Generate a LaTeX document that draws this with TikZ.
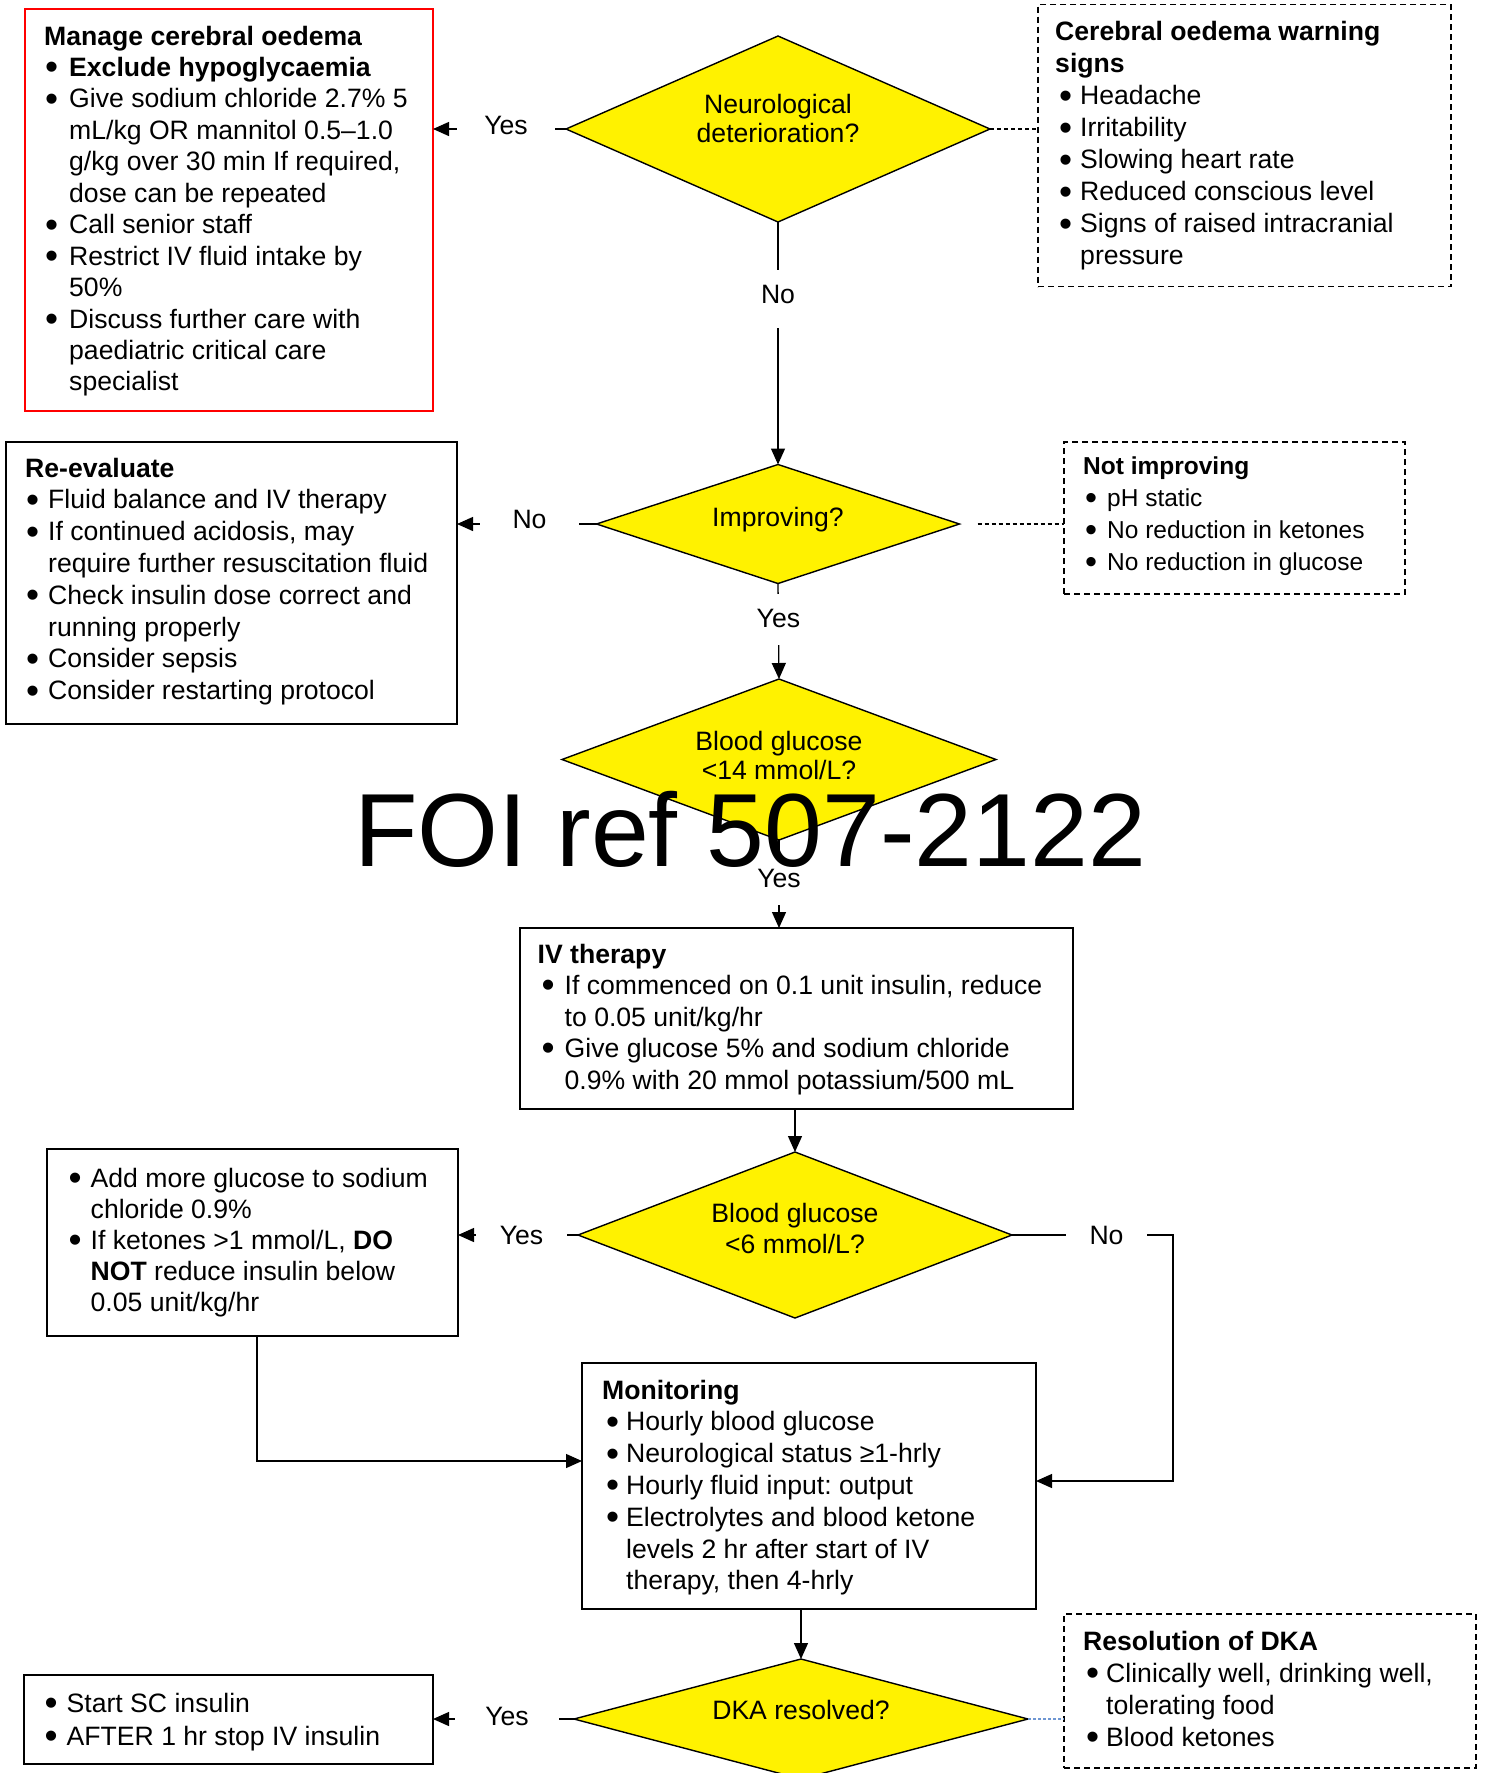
\documentclass[tikz,border=0pt]{standalone}
\usepackage{fontspec}
\usepackage{graphicx}
\setmainfont{Liberation Sans}
\usetikzlibrary{shapes.geometric,arrows.meta}

% bullet column: width of the hanging indent and offset of the bullet
\newlength{\bltw}
\newlength{\blto}
\newcommand{\bigdot}{\smash{\raisebox{-0.13em}{\scalebox{1.4}{\textbullet}}}}
\newcommand{\bitem}{\makebox[\bltw][l]{\hspace{\blto}\bigdot}}
\newcommand{\bcont}{\hspace*{\bltw}}
\newcommand{\fsz}[2]{\fontsize{#1pt}{#2pt}\selectfont}
\definecolor{linkblue}{RGB}{110,150,210}
\frenchspacing

\begin{document}
\begin{tikzpicture}[x=1pt,y=-1pt,
  box/.style={draw, line width=1.6pt, inner sep=0pt, outer sep=0pt, anchor=north west},
  warnbox/.style={box, draw=red},
  notebox/.style={box, dash pattern=on 6pt off 4pt},
  decision/.style={diamond, draw, fill=yellow, line width=1.4pt, inner sep=0pt, outer sep=0pt},
  txt/.style={inner sep=0pt, anchor=base west},
  dtxt/.style={inner sep=0pt, anchor=base, font=\fsz{26.6}{29.5}},
  conn/.style={line width=1.3pt, -{Triangle[length=16pt,width=14pt]}},
  hint/.style={line width=1.1pt, dash pattern=on 4pt off 3pt},
  lbl/.style={fill=white, inner sep=0pt, text height=19pt, font=\fsz{26.6}{31.6}},
]
\useasboundingbox (0,0) rectangle (1485,1773);
\fill[white] (0,0) rectangle (1485,1773);

% ---------- boxes ----------
\node[warnbox, minimum width=408pt, minimum height=402pt] (warn) at (25,9) {};
\node[notebox, minimum width=413pt, minimum height=282pt] (cereb) at (1038,4.5) {};
\node[box, minimum width=451pt, minimum height=282pt] (reeval) at (6,442) {};
\node[notebox, minimum width=341pt, minimum height=152pt] (notimp) at (1064,442) {};
\node[box, minimum width=553pt, minimum height=181pt] (iv) at (520,928) {};
\node[box, minimum width=411pt, minimum height=187pt] (add) at (47,1149) {};
\node[box, minimum width=454pt, minimum height=246pt] (mon) at (582,1363) {};
\node[box, minimum width=409pt, minimum height=89pt] (sc) at (24,1675) {};
\node[notebox, minimum width=412pt, minimum height=154pt] (resol) at (1064,1614) {};

% ---------- decisions ----------
\node[decision, minimum width=424pt, minimum height=186pt] (neuro) at (778,129) {};
\node[decision, minimum width=363pt, minimum height=119pt] (impr) at (778,524) {};
\node[decision, minimum width=434pt, minimum height=161pt] (bg14) at (779,759.5) {};
\node[decision, minimum width=434pt, minimum height=166pt] (bg6) at (795,1235) {};
\node[decision, minimum width=454pt, minimum height=120pt] (dka) at (801,1719) {};

% ---------- connectors ----------
\draw[conn] (neuro.west) -- node[lbl, pos=0.451, minimum width=98pt, text depth=8pt] (lyes1) {Yes} (neuro.west -| warn.east);
\draw[hint] (neuro.east) -- (neuro.east -| cereb.west);
\draw[conn] (neuro.south) -- node[lbl, pos=0.318, minimum width=50pt, minimum height=58pt, text depth=11pt] (lno1) {No} (impr.north);
\draw[conn] (impr.west) -- node[lbl, pos=0.480, minimum width=99pt, text depth=11pt] (lno2) {No} (impr.west -| reeval.east);
\draw[hint, shorten <=18pt] (impr.east) -- (impr.east -| notimp.west);
\draw[conn] (impr.south) -- node[lbl, pos=0.377, minimum width=50pt, minimum height=51pt, text depth=2.6pt] (lyes2) {Yes} (bg14.north);
\draw[conn] (bg14.south) -- node[lbl, pos=0.443, minimum width=50pt, minimum height=52pt, text depth=1pt] (lyes3) {Yes} (bg14.south |- iv.north);
\draw[conn] (iv.south -| bg6.north) -- (bg6.north);
\draw[conn] (bg6.west) -- node[lbl, pos=0.471, minimum width=91pt, text depth=0pt] (lyes4) {Yes} (bg6.west -| add.east);
\coordinate (nocorner) at (1173,1235);
\draw[conn] (bg6.east) -- node[lbl, pos=0.587, minimum width=81pt, text depth=1pt] (lno3) {No} (nocorner) |- ([yshift=5pt]mon.east);
\coordinate (addcorner) at (257,1461);
\draw[conn] (add.south -| addcorner) -- (addcorner) -- (addcorner -| mon.west);
\draw[conn] (mon.south -| dka.north) -- (dka.north);
\draw[conn] (dka.west) -- node[lbl, pos=0.475, minimum width=104pt, text depth=7pt] (lyes5) {Yes} (dka.west -| sc.east);
\draw[hint, draw=linkblue, dash pattern=on 2.5pt off 2.5pt] (dka.east) -- (dka.east -| resol.west);

% ---------- decision texts ----------
\node[dtxt] (neurotxt) at (778,113) {\begin{tabular}[t]{@{}c@{}}Neurological\\deterioration?\end{tabular}};
\node[dtxt] (imprtxt) at (778,526) {Improving?};
\node[dtxt, font=\fsz{26.6}{29}] (bg14txt) at (779,750) {\begin{tabular}[t]{@{}c@{}}Blood glucose\\<14 mmol/L?\end{tabular}};
\node[dtxt, font=\fsz{26.6}{30.4}] (bg6txt) at (795,1222.6) {\begin{tabular}[t]{@{}c@{}}Blood glucose\\<6 mmol/L?\end{tabular}};
\node[dtxt] (dkatxt) at (801,1719) {DKA resolved?};

% ---------- box texts ----------
\node[txt, font=\fsz{26.6}{31.45}] (warntxt) at (44,45) {\setlength{\bltw}{25pt}\setlength{\blto}{1pt}%
\begin{tabular}[t]{@{}l@{}}
\textbf{Manage cerebral oedema}\\
\bitem\textbf{Exclude hypoglycaemia}\\
\bitem Give sodium chloride 2.7\% 5\\
\bcont mL/kg OR mannitol 0.5–1.0\\
\bcont g/kg over 30 min If required,\\
\bcont dose can be repeated\\
\bitem Call senior staff\\
\bitem Restrict IV fluid intake by\\
\bcont 50\%\\
\bitem Discuss further care with\\
\bcont paediatric critical care\\
\bcont specialist
\end{tabular}};

\node[txt, font=\fsz{26.6}{32}] (crebtxt) at (1055,40.7) {\setlength{\bltw}{25pt}\setlength{\blto}{4pt}%
\begin{tabular}[t]{@{}l@{}}
\textbf{Cerebral oedema warning}\\
\textbf{signs}\\
\bitem Headache\\
\bitem Irritability\\
\bitem Slowing heart rate\\
\bitem Reduced conscious level\\
\bitem Signs of raised intracranial\\
\bcont pressure
\end{tabular}};

\node[txt, font=\fsz{26.6}{31.8}] (reevaltxt) at (25,477) {\setlength{\bltw}{23pt}\setlength{\blto}{1pt}%
\begin{tabular}[t]{@{}l@{}}
\textbf{Re-evaluate}\\
\bitem Fluid balance and IV therapy\\
\bitem If continued acidosis, may\\
\bcont require further resuscitation fluid\\
\bitem Check insulin dose correct and\\
\bcont running properly\\
\bitem Consider sepsis\\
\bitem Consider restarting protocol
\end{tabular}};

\node[txt, font=\fsz{24.5}{32}] (notimptxt) at (1083,474) {\setlength{\bltw}{24pt}\setlength{\blto}{2pt}%
\begin{tabular}[t]{@{}l@{}}
\textbf{Not improving}\\
\bitem pH static\\
\bitem No reduction in ketones\\
\bitem No reduction in glucose
\end{tabular}};

\node[txt, font=\fsz{26.6}{31.5}] (ivtxt) at (537.5,963) {\setlength{\bltw}{27pt}\setlength{\blto}{4pt}%
\begin{tabular}[t]{@{}l@{}}
\textbf{IV therapy}\\
\bitem If commenced on 0.1 unit insulin, reduce\\
\bcont to 0.05 unit/kg/hr\\
\bitem Give glucose 5\% and sodium chloride\\
\bcont 0.9\% with 20 mmol potassium/500 mL
\end{tabular}};

\node[txt, font=\fsz{26.6}{31.2}] (addtxt) at (68.5,1187) {\setlength{\bltw}{22pt}\setlength{\blto}{0pt}%
\begin{tabular}[t]{@{}l@{}}
\bitem Add more glucose to sodium\\
\bcont chloride 0.9\%\\
\bitem If ketones >1 mmol/L, \textbf{DO}\\
\bcont\textbf{NOT} reduce insulin below\\
\bcont 0.05 unit/kg/hr
\end{tabular}};

\node[txt, font=\fsz{26.6}{31.8}] (montxt) at (602,1399) {\setlength{\bltw}{24pt}\setlength{\blto}{4pt}%
\begin{tabular}[t]{@{}l@{}}
\textbf{Monitoring}\\
\bitem Hourly blood glucose\\
\bitem Neurological status ≥1-hrly\\
\bitem Hourly fluid input: output\\
\bitem Electrolytes and blood ketone\\
\bcont levels 2 hr after start of IV\\
\bcont therapy, then 4-hrly
\end{tabular}};

\node[txt, font=\fsz{26.6}{33}] (sctxt) at (44.5,1712) {\setlength{\bltw}{22pt}\setlength{\blto}{0pt}%
\begin{tabular}[t]{@{}l@{}}
\bitem Start SC insulin\\
\bitem AFTER 1 hr stop IV insulin
\end{tabular}};

\node[txt, font=\fsz{26.6}{32}] (resoltxt) at (1083,1650) {\setlength{\bltw}{23pt}\setlength{\blto}{3pt}%
\begin{tabular}[t]{@{}l@{}}
\textbf{Resolution of DKA}\\
\bitem Clinically well, drinking well,\\
\bcont tolerating food\\
\bitem Blood ketones
\end{tabular}};

% ---------- reference stamp ----------
\node[inner sep=0pt, anchor=base west, font=\fsz{104}{104}] (foi) at (354,866) {FOI ref 507-2122};
\end{tikzpicture}
\end{document}
